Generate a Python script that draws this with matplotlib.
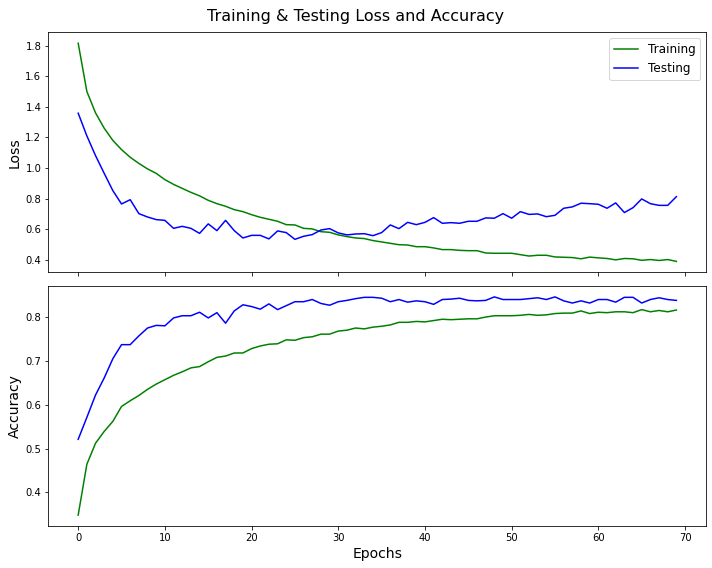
import matplotlib
matplotlib.use("Agg")
import matplotlib.pyplot as plt

epochs = list(range(70))

train_loss = [
    1.815, 1.50, 1.36, 1.26, 1.18, 1.12, 1.07, 1.03, 0.994, 0.965,
    0.924, 0.893, 0.867, 0.841, 0.818, 0.789, 0.767, 0.750, 0.728, 0.715,
    0.695, 0.678, 0.665, 0.652, 0.630, 0.628, 0.606, 0.602, 0.584, 0.580,
    0.563, 0.552, 0.543, 0.539, 0.526, 0.517, 0.508, 0.499, 0.497, 0.486,
    0.486, 0.478, 0.467, 0.467, 0.462, 0.460, 0.460, 0.445, 0.443, 0.443,
    0.443, 0.434, 0.425, 0.430, 0.430, 0.419, 0.417, 0.415, 0.407, 0.418,
    0.413, 0.409, 0.400, 0.409, 0.407, 0.397, 0.402, 0.396, 0.402, 0.390,
]
test_loss = [
    1.358, 1.21, 1.081, 0.965, 0.852, 0.765, 0.793, 0.702, 0.680, 0.663,
    0.658, 0.606, 0.619, 0.606, 0.573, 0.635, 0.591, 0.658, 0.591, 0.543,
    0.560, 0.560, 0.537, 0.589, 0.578, 0.534, 0.554, 0.565, 0.595, 0.604,
    0.576, 0.563, 0.569, 0.571, 0.558, 0.578, 0.628, 0.604, 0.645, 0.630,
    0.645, 0.676, 0.639, 0.643, 0.639, 0.652, 0.652, 0.674, 0.672, 0.702,
    0.672, 0.715, 0.697, 0.700, 0.682, 0.691, 0.737, 0.746, 0.770, 0.767,
    0.763, 0.737, 0.772, 0.709, 0.741, 0.798, 0.767, 0.756, 0.756, 0.813,
]
train_acc = [
    0.348, 0.464, 0.512, 0.539, 0.562, 0.596, 0.609, 0.621, 0.635, 0.647,
    0.657, 0.667, 0.675, 0.684, 0.687, 0.698, 0.708, 0.711, 0.718, 0.718,
    0.728, 0.734, 0.738, 0.739, 0.748, 0.747, 0.753, 0.755, 0.761, 0.761,
    0.768, 0.770, 0.775, 0.773, 0.777, 0.779, 0.782, 0.788, 0.788, 0.790,
    0.789, 0.792, 0.795, 0.794, 0.795, 0.796, 0.796, 0.800, 0.803, 0.803,
    0.803, 0.804, 0.806, 0.804, 0.805, 0.808, 0.809, 0.809, 0.814, 0.808,
    0.811, 0.810, 0.812, 0.812, 0.810, 0.817, 0.812, 0.815, 0.812, 0.816,
]
test_acc = [
    0.521, 0.571, 0.622, 0.661, 0.705, 0.737, 0.737, 0.757, 0.775, 0.781,
    0.780, 0.798, 0.803, 0.803, 0.811, 0.798, 0.810, 0.786, 0.814, 0.828,
    0.824, 0.818, 0.830, 0.817, 0.826, 0.835, 0.835, 0.840, 0.831, 0.827,
    0.835, 0.838, 0.842, 0.845, 0.845, 0.843, 0.835, 0.840, 0.834, 0.837,
    0.835, 0.829, 0.840, 0.841, 0.843, 0.838, 0.837, 0.838, 0.846, 0.840,
    0.840, 0.840, 0.842, 0.844, 0.840, 0.846, 0.837, 0.832, 0.837, 0.832,
    0.840, 0.840, 0.834, 0.845, 0.845, 0.832, 0.840, 0.844, 0.840, 0.838,
]

fig = plt.figure(figsize=(712 / 72, 568 / 72), dpi=72)
ax1 = fig.add_axes([0.0678, 0.5206, 0.9242, 0.4225])
ax2 = fig.add_axes([0.0678, 0.0739, 0.9242, 0.4226], sharex=ax1)

ax1.plot(epochs, train_loss, color="g", label="Training")
ax1.plot(epochs, test_loss, color="b", label="Testing")
ax1.set_ylabel("Loss", fontsize=14)
ax1.legend(loc="upper right", fontsize=12)
ax1.tick_params(labelbottom=False, labelsize=10)

ax2.plot(epochs, train_acc, color="g")
ax2.plot(epochs, test_acc, color="b")
ax2.set_ylabel("Accuracy", fontsize=14)
ax2.set_xlabel("Epochs", fontsize=14)
ax2.tick_params(labelsize=10)

fig.suptitle("Training & Testing Loss and Accuracy", fontsize=16, y=0.985)

fig.savefig("out.png", dpi=72)
